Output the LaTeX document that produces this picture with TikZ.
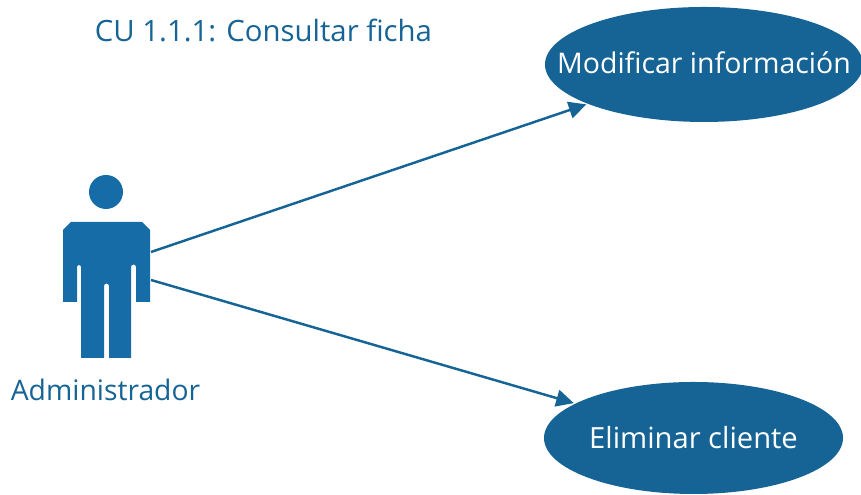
\documentclass[tikz,border=0pt]{standalone}
\usepackage{fontspec}
\setmainfont[Ligatures=NoCommon]{Open Sans}
\usetikzlibrary{shapes.geometric, arrows.meta}
\definecolor{casoblue}{HTML}{156495}
\definecolor{actorblue}{HTML}{156CA6}
\tikzset{
  caso/.style={ellipse, fill=casoblue, text=white, inner ysep=0, inner xsep=-0.4cm, outer sep=0, font=\fontsize{8.1}{10}\selectfont},
  rotulo/.style={text=casoblue, inner sep=0, font=\fontsize{8.05}{10}\selectfont},
  enlace/.style={casoblue, line width=0.7pt, shorten >=0.5pt, -{Triangle[length=5pt, width=4.8pt]}}
}

\begin{document}
\begin{tikzpicture}
    \useasboundingbox (0,0) rectangle (8.61, 4.95);
    \clip (0,0) rectangle (8.61, 4.95);

    \node[rotulo, font=\fontsize{8.35}{10}\selectfont] (titulo) at (2.635, 4.64) {CU 1.1.1: Consultar ficha};
    \node[caso, minimum width=3.18cm, minimum height=1.15cm, text depth=1.1pt] (modificar) at (7.04, 4.305) {Modificar información};
    \node[caso, minimum width=2.99cm, minimum height=1.12cm, font=\fontsize{8.3}{10}\selectfont] (eliminar) at (6.935, 0.57) {Eliminar cliente};

    % actor
    \fill[actorblue] (1.06, 3.03) circle[radius=0.17];
    \fill[actorblue] (0.63,2.65) -- (0.71,2.73) -- (1.42,2.73) -- (1.50,2.65) -- (1.50,1.93) -- (1.36,1.93)
      -- (1.36,2.28) arc[start angle=0, end angle=180, radius=0.025] -- (1.31,1.37) -- (1.09,1.37)
      -- (1.09,2.09) arc[start angle=0, end angle=180, radius=0.025] -- (1.04,1.37) -- (0.81,1.37)
      -- (0.81,2.28) arc[start angle=0, end angle=180, radius=0.02] -- (0.77,1.93) -- (0.63,1.93) -- cycle;
    \node[rotulo] (admin) at (1.055, 1.05) {Administrador};
    \coordinate (adminA) at (1.51, 2.43);
    \coordinate (adminB) at (1.51, 2.15);

    \draw[enlace] (adminA) -- (modificar);
    \draw[enlace] (adminB) -- (eliminar);
\end{tikzpicture}
\end{document}
